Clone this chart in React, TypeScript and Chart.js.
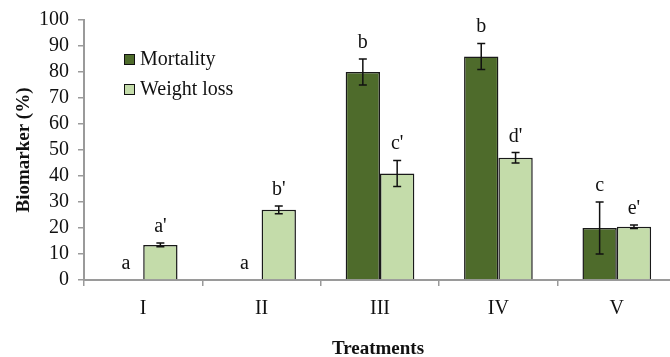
import React, { useEffect, useRef } from "react";
import { Chart, registerables } from "chart.js";

Chart.register(...registerables);

const categories = ["I", "II", "III", "IV", "V"];
const mortality = [0, 0, 80, 86, 20];
const mortalityErr = [0, 0, 5, 5, 10];
const mortalityLetters = ["a", "a", "b", "b", "c"];
const weightLoss = [13.5, 27, 41, 47, 20.5];
const weightLossErr = [0.7, 1.5, 5, 2, 0.7];
const weightLossLetters = ["a'", "b'", "c'", "d'", "e'"];
const yTicks = [0, 10, 20, 30, 40, 50, 60, 70, 80, 90, 100];

const SERIF = "'Liberation Serif', 'DejaVu Serif', serif";
const DARK = "#4e6b2b";
const LIGHT = "#c4dcaa";
const AXIS = "#9a9a9a";

const errLetters = {
  id: "errLetters",
  afterDatasetsDraw(chart: any) {
    const ctx = chart.ctx;
    const y = chart.scales.y;
    const errs = [mortalityErr, weightLossErr];
    const letters = [mortalityLetters, weightLossLetters];
    ctx.save();
    chart.data.datasets.forEach((ds: any, di: number) => {
      const meta = chart.getDatasetMeta(di);
      meta.data.forEach((bar: any, i: number) => {
        const v = ds.data[i];
        const e = errs[di][i];
        const x = bar.x;
        let topY = y.getPixelForValue(v);
        if (e > 0) {
          const yHi = y.getPixelForValue(v + e);
          const yLo = y.getPixelForValue(v - e);
          ctx.strokeStyle = "#111";
          ctx.lineWidth = 1.5;
          ctx.beginPath();
          ctx.moveTo(x, yHi);
          ctx.lineTo(x, yLo);
          ctx.moveTo(x - 4, yHi);
          ctx.lineTo(x + 4, yHi);
          ctx.moveTo(x - 4, yLo);
          ctx.lineTo(x + 4, yLo);
          ctx.stroke();
          topY = yHi;
        }
        ctx.fillStyle = "#111";
        ctx.font = `20px ${SERIF}`;
        ctx.textAlign = "center";
        ctx.textBaseline = "alphabetic";
        ctx.fillText(letters[di][i], x, topY - 11);
      });
    });
    ctx.restore();
  },
};

const customLegend = {
  id: "customLegend",
  afterDraw(chart: any) {
    const ctx = chart.ctx;
    ctx.save();
    const items = chart.data.datasets;
    items.forEach((ds: any, i: number) => {
      const bx = 124;
      const by = 54 + i * 30;
      ctx.fillStyle = ds.backgroundColor;
      ctx.fillRect(bx, by, 11, 11);
      ctx.strokeStyle = "#111";
      ctx.lineWidth = 1;
      ctx.strokeRect(bx + 0.5, by + 0.5, 10, 10);
      ctx.fillStyle = "#111";
      ctx.font = `20px ${SERIF}`;
      ctx.textAlign = "left";
      ctx.textBaseline = "middle";
      ctx.fillText(ds.label, bx + 16, by + 6);
    });
    ctx.restore();
  },
};

const axisTitles = {
  id: "axisTitles",
  afterDraw(chart: any) {
    const ctx = chart.ctx;
    ctx.save();
    ctx.fillStyle = "#111";
    ctx.font = `bold 19px ${SERIF}`;
    ctx.textAlign = "center";
    ctx.textBaseline = "middle";
    ctx.fillText("Treatments", 378, 349);
    ctx.translate(24, 150);
    ctx.rotate(-Math.PI / 2);
    ctx.fillText("Biomarker (%)", 0, 0);
    ctx.restore();
  },
};

export default function App() {
  const ref = useRef<HTMLCanvasElement>(null);
  useEffect(() => {
    document.body.style.margin = "0";
    const chart = new Chart(ref.current!, {
      type: "bar",
      data: {
        labels: categories,
        datasets: [
          {
            label: "Mortality",
            data: mortality,
            backgroundColor: DARK,
            borderColor: "#1a1a1a",
            borderWidth: 1.5,
            categoryPercentage: 0.58,
            barPercentage: 1,
          },
          {
            label: "Weight loss",
            data: weightLoss,
            backgroundColor: LIGHT,
            borderColor: "#1a1a1a",
            borderWidth: 1.5,
            categoryPercentage: 0.58,
            barPercentage: 1,
          },
        ],
      },
      options: {
        animation: false,
        responsive: false,
        layout: { padding: { top: 20, right: 0, left: 0, bottom: 0 } },
        plugins: { legend: { display: false }, tooltip: { enabled: false } },
        scales: {
          x: {
            grid: {
              display: true,
              drawOnChartArea: false,
              offset: true,
              tickLength: 6,
              color: AXIS,
              lineWidth: 1.5,
            },
            border: { display: true, color: AXIS, width: 2 },
            ticks: {
              color: "#111",
              font: { family: SERIF, size: 20 },
              padding: 11,
              autoSkip: false,
            },
            afterFit: (s: any) => {
              s.height = 77;
            },
          },
          y: {
            min: 0,
            max: 100,
            afterBuildTicks: (s: any) => {
              s.ticks = yTicks.map((v) => ({ value: v }));
            },
            grid: {
              display: true,
              drawOnChartArea: false,
              tickLength: 6,
              color: AXIS,
              lineWidth: 1.5,
            },
            border: { display: true, color: AXIS, width: 2 },
            ticks: {
              color: "#111",
              font: { family: SERIF, size: 20, lineHeight: 1 },
              padding: 9,
              autoSkip: false,
            },
            afterFit: (s: any) => {
              s.width = 84;
            },
          },
        },
      },
      plugins: [errLetters, customLegend, axisTitles],
    });
    return () => chart.destroy();
  }, []);
  return (
    <div style={{ width: 670, height: 357, overflow: "hidden", position: "relative", background: "#fff" }}>
      <canvas ref={ref} width={676} height={357} style={{ display: "block" }} />
    </div>
  );
}
